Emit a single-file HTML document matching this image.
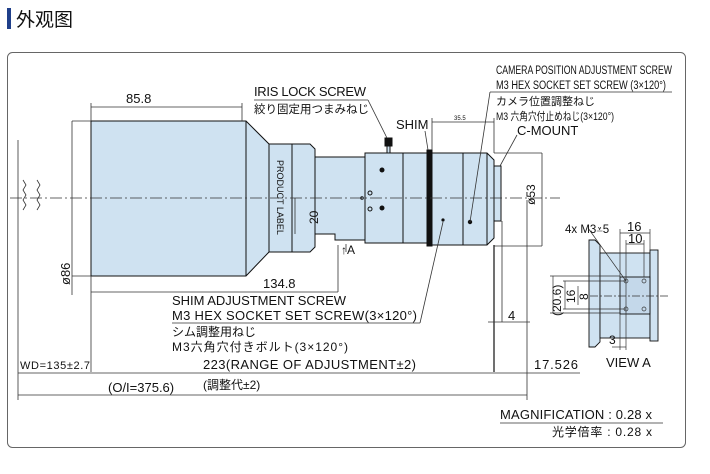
<!DOCTYPE html>
<html><head><meta charset="utf-8"><style>
body{margin:0;background:#fff;width:710px;height:474px;overflow:hidden}
svg{display:block}
text{font-family:"Liberation Sans","Noto Sans CJK JP",sans-serif;fill:#111}
</style></head><body>
<svg width="710" height="474" viewBox="0 0 710 474" xmlns="http://www.w3.org/2000/svg">
<rect x="7" y="8" width="4" height="21" fill="#1f3f8a"/>
<text x="16" y="26" font-size="19" fill="#333" font-family="'Noto Sans CJK SC',sans-serif">外观图</text>
<rect x="7.5" y="52.5" width="678" height="395" rx="5" fill="none" stroke="#666" stroke-width="1"/>

<g stroke="#111" stroke-width="1" fill="#cfe2f1">
<path d="M91 121 H246 L269 144 V252 L246 276 H91 Z"/>
<line x1="246" y1="121" x2="246" y2="276"/>
<path d="M269 144 H310 L315 149 V247 L310 252 H269 Z"/>
<line x1="292" y1="144" x2="292" y2="252"/>
<path d="M315 157 H365 V240 H335 V234 H315 Z"/>
<rect x="365" y="153" width="62" height="90"/>
<line x1="403" y1="153" x2="403" y2="243"/>
<rect x="427" y="150" width="5" height="96" fill="#111"/>
<path d="M432 153 H487 L494 160 V238 L487 245 H432 Z"/>
<line x1="463" y1="153" x2="463" y2="245"/>
<line x1="487" y1="153" x2="487" y2="245"/>
<rect x="494" y="166" width="7" height="55"/>
<rect x="387" y="145" width="3" height="8"/>
<rect x="385" y="138" width="7" height="8" fill="#111"/>
</g>
<g fill="#111">
<circle cx="382" cy="170" r="2.5"/><circle cx="382" cy="208" r="2.5"/>
<circle cx="370" cy="193" r="2" fill="none" stroke="#111"/><circle cx="370" cy="209" r="2" fill="none" stroke="#111"/>
<circle cx="362" cy="198" r="1.3" fill="none" stroke="#111"/>
<circle cx="470" cy="222" r="2.2"/><circle cx="443" cy="220" r="1.6"/>
</g>
<text transform="translate(277,160) rotate(90)" font-size="9">PRODUCT LABEL</text>

<line x1="10" y1="198" x2="560" y2="198" stroke="#333" stroke-width="0.7" stroke-dasharray="12,3,2,3"/>
<path d="M23 180 l3 5 -3 5 3 5 -3 5 3 5 -3 5 M37 180 l3 5 -3 5 3 5 -3 5 3 5 -3 5" stroke="#333" fill="none" stroke-width="0.8"/>

<g stroke="#333" stroke-width="0.8" fill="none">
<line x1="18" y1="140" x2="18" y2="400"/>
<line x1="91" y1="276" x2="91" y2="372"/>
<line x1="91" y1="103" x2="91" y2="121"/>
<line x1="242" y1="103" x2="242" y2="121"/>
<line x1="91" y1="107" x2="242" y2="107"/>
<line x1="72" y1="121" x2="72" y2="295"/>
<line x1="72" y1="121" x2="91" y2="121"/>
<line x1="72" y1="276" x2="91" y2="276"/>
<line x1="91" y1="292" x2="338" y2="292"/>
<line x1="338" y1="245" x2="338" y2="292"/>
<line x1="295" y1="198" x2="295" y2="234"/>
<line x1="494" y1="245" x2="494" y2="372" stroke="#111" stroke-width="1.2"/>
<line x1="502" y1="221" x2="502" y2="322"/>
<line x1="527" y1="200" x2="527" y2="400"/>
<line x1="542" y1="153" x2="542" y2="246"/>
<line x1="494" y1="246" x2="542" y2="246"/>
<line x1="494" y1="153" x2="542" y2="153"/>
<line x1="432" y1="118" x2="432" y2="150"/>
<line x1="432" y1="122" x2="494" y2="122"/>
<line x1="494" y1="118" x2="494" y2="153"/>
<line x1="488" y1="322" x2="530" y2="322"/>
<line x1="18" y1="373" x2="580" y2="373"/>
<line x1="18" y1="395" x2="527" y2="395"/>
<line x1="254" y1="100" x2="368" y2="100"/>
<line x1="368" y1="100" x2="387" y2="138"/>
<line x1="425" y1="131" x2="428" y2="150"/>
<line x1="517" y1="135" x2="500" y2="166"/>
<line x1="490" y1="92" x2="672" y2="92"/>
<line x1="490" y1="92" x2="470" y2="222"/>
<line x1="172" y1="323" x2="420" y2="323"/>
<line x1="420" y1="323" x2="443" y2="222"/>
<line x1="500" y1="423" x2="663" y2="423"/>
<line x1="346" y1="244" x2="346" y2="252"/>
</g>
<g font-size="13">
<text x="126" y="103">85.8</text>
<text x="263" y="288">134.8</text>
<text transform="translate(70,285) rotate(-90)">ø86</text>
<text transform="translate(535,205) rotate(-90)" font-size="12">ø53</text>
<text transform="translate(318,224) rotate(-90)" font-size="12">20</text>
<text x="341" y="254" font-size="12">↑A</text>
<text x="254" y="96" textLength="112">IRIS LOCK SCREW</text>
<text x="254" y="113" font-size="11.5">絞り固定用つまみねじ</text>
<text x="396" y="129">SHIM</text>
<text x="454" y="120" font-size="6">35.5</text>
<text x="517" y="135">C-MOUNT</text>
<text x="496" y="74" font-size="11.5" textLength="176" lengthAdjust="spacingAndGlyphs">CAMERA POSITION ADJUSTMENT SCREW</text>
<text x="496" y="89" font-size="11.5" textLength="170" lengthAdjust="spacingAndGlyphs">M3 HEX SOCKET SET SCREW (3×120°)</text>
<text x="496" y="105" font-size="11">カメラ位置調整ねじ</text>
<text x="496" y="120" font-size="11" textLength="118" lengthAdjust="spacingAndGlyphs">M3 六角穴付止めねじ(3×120°)</text>
<text x="172" y="305" textLength="174">SHIM ADJUSTMENT SCREW</text>
<text x="172" y="320" textLength="245">M3 HEX SOCKET SET SCREW(3×120°)</text>
<text x="172" y="336" font-size="12">シム調整用ねじ</text>
<text x="172" y="351" font-size="12" textLength="176">M3六角穴付きボルト(3×120°)</text>
<text x="508" y="320">4</text>
<text x="20" y="369" font-size="11" textLength="70">WD=135±2.7</text>
<text x="203" y="369" textLength="213">223(RANGE OF ADJUSTMENT±2)</text>
<text x="203" y="389" font-size="12">(調整代±2)</text>
<text x="108" y="392">(O/I=375.6)</text>
<text x="534" y="369" textLength="44">17.526</text>
<text x="500" y="419" textLength="152">MAGNIFICATION : 0.28 x</text>
<text x="552" y="436" font-size="12" textLength="100">光学倍率 : 0.28 x</text>
</g>

<g stroke="#111" stroke-width="0.9" fill="#cfe2f1">
<path d="M589 240 H595 L600 245 V342 L595 347 H589 Z"/>
<rect x="600" y="253" width="50" height="85"/>
<rect x="650" y="250" width="8" height="91"/>
<rect x="620" y="277" width="30" height="37" fill="#c4d8ea"/>
</g>
<g stroke="#333" stroke-width="0.7" fill="none">
<circle cx="626" cy="281" r="2"/><circle cx="644" cy="281" r="2"/>
<circle cx="626" cy="309" r="2"/><circle cx="644" cy="309" r="2"/>
<line x1="590" y1="296" x2="668" y2="296" stroke-dasharray="8,2,2,2"/>
<line x1="620" y1="229" x2="620" y2="277"/><line x1="650" y1="229" x2="650" y2="250"/>
<line x1="620" y1="233" x2="650" y2="233"/>
<line x1="626" y1="240" x2="626" y2="350"/><line x1="644" y1="240" x2="644" y2="277"/>
<line x1="626" y1="244" x2="644" y2="244"/>
<line x1="620" y1="314" x2="620" y2="350"/><line x1="612" y1="347" x2="626" y2="347"/>
<line x1="553" y1="276" x2="553" y2="313"/><line x1="550" y1="276" x2="620" y2="276"/><line x1="550" y1="313" x2="620" y2="313"/>
<line x1="565" y1="281" x2="565" y2="309"/><line x1="563" y1="281" x2="626" y2="281"/><line x1="563" y1="309" x2="626" y2="309"/>
<line x1="578" y1="286" x2="578" y2="305"/>
<line x1="588" y1="228" x2="626" y2="281"/>
</g>
<g font-size="13">
<text x="565" y="233" font-size="11.5">4x M3⩡5</text>
<text x="627" y="231">16</text>
<text x="628" y="243">10</text>
<text transform="translate(561,316) rotate(-90)" font-size="12">(20.6)</text>
<text transform="translate(575,303) rotate(-90)" font-size="12">16</text>
<text transform="translate(588,300) rotate(-90)" font-size="12">8</text>
<text x="609" y="344" font-size="12">3</text>
<text x="606" y="367">VIEW A</text>
</g>
</svg>
</body></html>
